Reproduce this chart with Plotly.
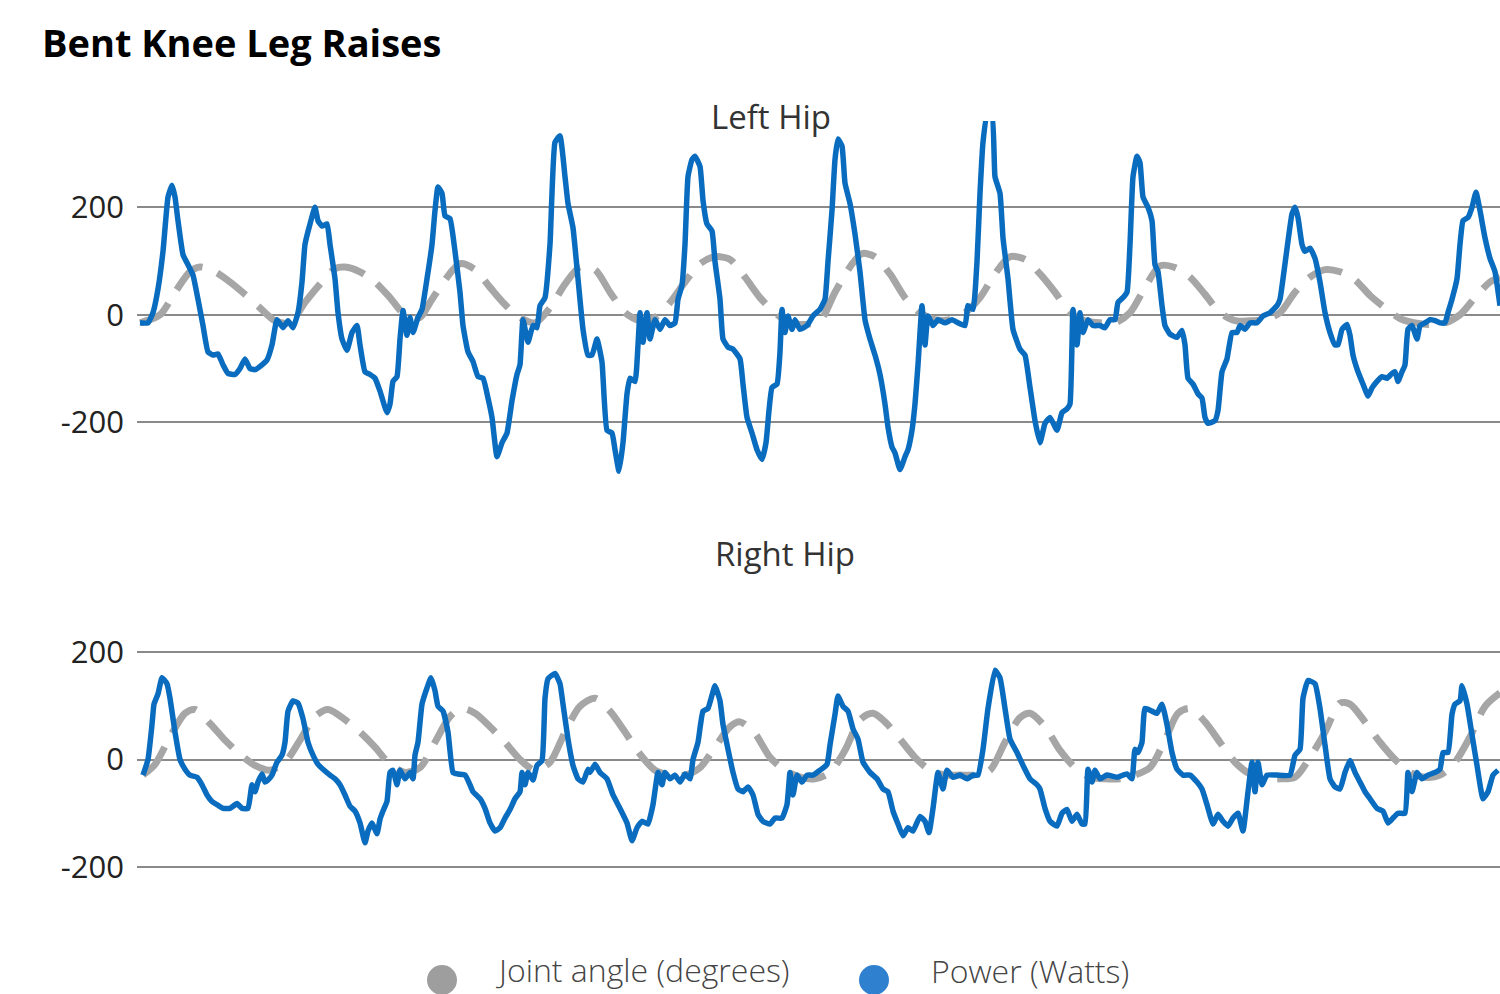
import plotly.graph_objects as go
from plotly.subplots import make_subplots

# ---------------- data (frames vs. values) ----------------
lh_power_frame = [0, 8, 13, 18, 23, 28, 32, 35, 38, 43, 48, 53, 58, 63, 68, 73, 78, 83, 88, 95, 100, 105, 110, 115, 122, 127, 132, 137, 143, 148, 153, 158, 162, 165, 170, 175, 178, 182, 187, 190, 195, 198, 202, 207, 212, 217, 220, 225, 230, 235, 240, 247, 250, 253, 257, 260, 263, 267, 270, 273, 278, 282, 287, 292, 295, 298, 302, 305, 310, 315, 320, 323, 328, 333, 338, 343, 348, 352, 357, 362, 367, 372, 377, 380, 383, 388, 393, 397, 400, 405, 410, 415, 420, 425, 428, 433, 438, 443, 448, 452, 457, 462, 467, 472, 475, 479, 483, 487, 490, 495, 498, 500, 503, 507, 510, 515, 520, 525, 530, 535, 538, 542, 545, 548, 552, 555, 560, 563, 567, 572, 575, 580, 583, 588, 593, 600, 603, 607, 612, 617, 622, 626, 629, 632, 637, 640, 642, 645, 648, 652, 655, 660, 667, 673, 680, 685, 688, 692, 695, 698, 702, 705, 710, 715, 720, 725, 730, 735, 740, 745, 748, 752, 755, 760, 765, 768, 772, 775, 778, 782, 785, 788, 793, 798, 805, 812, 818, 825, 828, 833, 837, 840, 843, 847, 852, 855, 860, 863, 868, 873, 880, 885, 890, 895, 900, 905, 910, 917, 922, 927, 930, 933, 937, 940, 943, 948, 953, 960, 965, 970, 975, 978, 983, 987, 990, 993, 997, 1000, 1003, 1008, 1012, 1015, 1018, 1022, 1025, 1030, 1037, 1042, 1045, 1048, 1053, 1058, 1062, 1065, 1068, 1075, 1078, 1082, 1087, 1092, 1097, 1100, 1105, 1110, 1117, 1123, 1130, 1137, 1140, 1143, 1148, 1152, 1155, 1158, 1162, 1165, 1170, 1175, 1180, 1185, 1190, 1195, 1198, 1202, 1207, 1210, 1213, 1218, 1223, 1228, 1232, 1237, 1242, 1247, 1252, 1255, 1258, 1262, 1265, 1268, 1272, 1277, 1280, 1285, 1290, 1295, 1300, 1305, 1308, 1312, 1317, 1320, 1323, 1328, 1332, 1336, 1340, 1345, 1350, 1355, 1360]
lh_power = [-15, -15, 4, 48, 118, 219, 241, 219, 175, 112, 93, 74, 29, -20, -69, -75, -73, -93, -109, -111, -100, -82, -100, -102, -93, -84, -56, -9, -24, -11, -24, 4, 61, 131, 169, 200, 175, 165, 169, 131, 67, 4, -45, -66, -33, -20, -56, -106, -111, -118, -142, -182, -166, -124, -115, -45, 8, -38, -5, -33, -5, 10, 67, 131, 194, 238, 226, 184, 179, 118, 42, -20, -69, -87, -115, -118, -155, -191, -264, -238, -220, -160, -111, -93, -9, -51, -20, -24, 17, 32, 131, 321, 333, 257, 207, 162, 67, -27, -75, -75, -45, -88, -215, -220, -251, -291, -238, -147, -118, -124, -56, 4, -51, 4, -45, -9, -27, -9, -20, -15, 29, 55, 131, 257, 289, 295, 276, 213, 169, 156, 99, 29, -45, -60, -64, -82, -129, -191, -220, -251, -269, -238, -178, -135, -129, -69, 10, -33, -2, -27, -9, -27, -20, -2, 10, 29, 99, 194, 289, 327, 314, 245, 207, 150, 80, -9, -45, -75, -111, -166, -209, -246, -257, -288, -264, -251, -215, -166, -93, 17, -56, -2, -20, -9, -15, -9, -15, -20, 17, 10, 99, 226, 321, 370, 370, 257, 226, 143, 67, -27, -64, -75, -135, -197, -238, -202, -191, -215, -182, -175, -166, 10, -56, 4, -33, -9, -20, -20, -24, -9, -9, 23, 32, 42, 131, 257, 295, 283, 219, 200, 175, 93, 80, 17, -20, -36, -42, -29, -56, -118, -129, -147, -155, -191, -202, -197, -178, -106, -82, -33, -33, -20, -27, -15, -15, -2, 4, 17, 29, 67, 137, 188, 200, 181, 131, 118, 124, 105, 61, 4, -33, -56, -56, -27, -18, -38, -75, -106, -129, -151, -136, -124, -115, -118, -109, -106, -124, -106, -93, -27, -20, -45, -20, -15, -9, -11, -15, -15, 4, 29, 67, 131, 175, 181, 200, 228, 194, 143, 105, 80, 17]

lh_angle_frame = [0, 20, 35, 50, 60, 75, 90, 105, 120, 135, 150, 165, 180, 195, 205, 220, 235, 250, 265, 280, 290, 305, 320, 335, 350, 365, 380, 395, 410, 425, 440, 455, 470, 485, 500, 515, 530, 545, 560, 575, 590, 605, 620, 635, 650, 665, 680, 695, 710, 722, 735, 750, 765, 780, 795, 810, 825, 840, 855, 870, 885, 900, 915, 930, 945, 960, 975, 990, 1005, 1020, 1035, 1050, 1065, 1080, 1095, 1110, 1125, 1140, 1155, 1170, 1185, 1200, 1215, 1230, 1245, 1260, 1275, 1290, 1305, 1320, 1335, 1350, 1360]
lh_angle = [-15, 0, 42, 80, 89, 80, 61, 38, 13, -11, -15, 23, 57, 86, 89, 80, 61, 32, 0, -5, 23, 65, 95, 84, 51, 19, -5, -15, 13, 57, 89, 84, 42, 4, -11, -5, 23, 61, 95, 108, 103, 70, 32, 4, -15, -18, -11, 42, 89, 114, 108, 76, 32, 4, -9, -9, 4, 32, 76, 108, 103, 76, 42, 4, -11, -15, -15, 4, 51, 91, 88, 70, 38, 4, -11, -11, -9, 4, 42, 70, 84, 80, 65, 36, 13, -7, -15, -18, -15, 0, 32, 61, 70]

rh_power_frame = [3, 8, 12, 14, 18, 22, 27, 30, 35, 40, 45, 50, 57, 62, 67, 72, 77, 83, 90, 97, 102, 108, 112, 115, 118, 122, 125, 128, 132, 137, 142, 145, 148, 153, 158, 163, 168, 173, 178, 183, 190, 195, 200, 205, 210, 215, 220, 225, 228, 232, 237, 240, 243, 247, 250, 253, 257, 260, 265, 270, 273, 275, 278, 282, 287, 291, 295, 298, 303, 308, 313, 318, 325, 330, 333, 340, 345, 350, 355, 360, 365, 370, 375, 380, 382, 385, 388, 393, 397, 402, 405, 408, 415, 420, 423, 428, 433, 438, 443, 448, 450, 455, 460, 467, 473, 480, 487, 492, 497, 502, 508, 513, 518, 522, 525, 530, 535, 540, 545, 550, 553, 558, 563, 568, 575, 580, 583, 588, 593, 598, 603, 608, 613, 618, 623, 630, 635, 642, 647, 650, 653, 657, 662, 667, 673, 680, 687, 690, 695, 698, 703, 708, 713, 718, 723, 730, 737, 743, 748, 753, 758, 763, 768, 773, 780, 785, 789, 793, 798, 803, 807, 813, 820, 827, 833, 838, 843, 848, 855, 860, 865, 870, 877, 883, 890, 897, 900, 905, 910, 917, 922, 927, 932, 937, 942, 945, 948, 952, 955, 960, 967, 977, 987, 992, 995, 998, 1002, 1005, 1012, 1017, 1022, 1027, 1032, 1037, 1043, 1050, 1057, 1062, 1067, 1073, 1078, 1083, 1088, 1093, 1098, 1103, 1108, 1112, 1115, 1118, 1122, 1127, 1137, 1150, 1155, 1160, 1163, 1168, 1175, 1180, 1185, 1190, 1195, 1200, 1205, 1210, 1215, 1220, 1225, 1230, 1237, 1243, 1248, 1253, 1258, 1265, 1268, 1272, 1277, 1282, 1288, 1295, 1300, 1303, 1308, 1312, 1315, 1320, 1322, 1327, 1332, 1337, 1343, 1348, 1353, 1358]
rh_power = [-29, 0, 65, 103, 122, 152, 141, 114, 51, 0, -18, -29, -33, -47, -66, -78, -84, -91, -91, -82, -91, -91, -47, -60, -42, -27, -42, -38, -29, -5, 8, 32, 90, 109, 105, 76, 32, 8, -9, -18, -29, -36, -47, -66, -87, -96, -118, -155, -133, -118, -138, -111, -96, -78, -24, -20, -47, -20, -36, -24, -36, 8, 32, 103, 133, 152, 128, 99, 90, 51, -24, -27, -29, -47, -60, -73, -91, -118, -133, -127, -109, -93, -73, -60, -24, -47, -24, -38, -11, -2, 114, 150, 160, 141, 103, 38, -11, -36, -42, -18, -24, -9, -24, -36, -66, -91, -118, -151, -127, -115, -120, -84, -24, -47, -24, -36, -29, -42, -27, -36, 0, 32, 90, 95, 137, 109, 65, 19, -24, -55, -60, -51, -66, -102, -115, -120, -109, -109, -84, -24, -66, -29, -42, -29, -29, -20, -9, 27, 84, 118, 99, 90, 57, 38, -5, -24, -36, -55, -60, -96, -120, -142, -127, -133, -106, -115, -136, -91, -24, -55, -20, -33, -29, -36, -29, -29, 19, 95, 166, 152, 95, 38, 13, -11, -36, -47, -55, -91, -115, -124, -100, -93, -115, -102, -120, -120, -18, -42, -20, -36, -29, -33, -27, -36, 19, 13, 32, 95, 90, 86, 103, 65, 13, -18, -29, -29, -42, -55, -84, -120, -102, -115, -124, -109, -100, -133, -60, -5, -60, -5, -47, -29, -29, -29, 8, 19, 114, 147, 141, 95, 27, -36, -51, -55, -24, -2, -24, -42, -60, -73, -91, -96, -118, -109, -100, -100, -24, -60, -24, -36, -29, -24, -18, 13, 13, 84, 103, 109, 137, 103, 46, -11, -73, -60, -29, -20]

rh_angle_frame = [3, 15, 30, 45, 55, 70, 85, 100, 115, 130, 145, 160, 175, 188, 205, 220, 235, 250, 265, 280, 295, 310, 322, 335, 350, 365, 380, 395, 410, 425, 440, 455, 470, 485, 500, 515, 530, 545, 560, 575, 590, 600, 615, 630, 645, 660, 675, 690, 705, 720, 733, 745, 760, 775, 790, 805, 820, 835, 850, 865, 880, 890, 905, 920, 935, 950, 965, 980, 995, 1010, 1025, 1038, 1050, 1065, 1080, 1095, 1110, 1125, 1140, 1155, 1170, 1185, 1200, 1210, 1225, 1240, 1255, 1270, 1285, 1300, 1315, 1330, 1345, 1360]
rh_angle = [-29, -9, 42, 86, 93, 67, 36, 10, -11, -20, -5, 36, 80, 93, 74, 51, 23, -9, -24, -15, 32, 80, 95, 86, 61, 32, 0, -20, -5, 51, 99, 114, 90, 51, 10, -20, -29, -29, -15, 23, 61, 70, 48, 4, -20, -33, -36, -24, 17, 74, 86, 70, 38, 4, -20, -29, -29, -29, -20, 32, 78, 86, 61, 17, -15, -33, -36, -36, -29, -15, 36, 86, 95, 70, 32, -5, -27, -36, -36, -33, 4, 51, 105, 103, 70, 32, 0, -24, -33, -29, -5, 42, 99, 124]

panel_titles = ["Left Hip", "Right Hip"]
series_names = ["Joint angle (degrees)", "Power (Watts)"]
series_colors = ["#a6a6a6", "#0a6cbf"]
legend_colors = ["#9e9e9e", "#2f80cf"]
y_ticks = [-200, 0, 200]
y_tick_text = ["-200", "0", "200"]
chart_title = "Bent Knee Leg Raises"

# ---------------- figure ----------------
W, H = 1500, 994
FONT = "Open Sans"

fig = make_subplots(rows=2, cols=1)

panels = [
    (lh_angle_frame, lh_angle, lh_power_frame, lh_power),
    (rh_angle_frame, rh_angle, rh_power_frame, rh_power),
]
for i, (af, av, pf, pv) in enumerate(panels, start=1):
    fig.add_trace(go.Scatter(x=af, y=av, mode="lines", name=series_names[0],
                             line=dict(color=series_colors[0], width=7, dash="36px,16px", shape="spline", smoothing=0.8),
                             showlegend=False, hoverinfo="skip"), row=i, col=1)
    fig.add_trace(go.Scatter(x=pf, y=pv, mode="lines", name=series_names[1],
                             line=dict(color=series_colors[1], width=5.5, shape="spline", smoothing=0.4),
                             showlegend=False, hoverinfo="skip"), row=i, col=1)

x_dom = [137 / W, 1.0]
top_dom = [1 - 484 / H, 1 - 121 / H]
bot_dom = [1 - 900 / H, 1 - 600 / H]
scale = 107.5 / 200.0  # pixels per unit
top_zero, bot_zero = 314.8, 759.5
top_range = [-(484 - top_zero) / scale, (top_zero - 121) / scale]
bot_range = [-(900 - bot_zero) / scale, (bot_zero - 600) / scale]

xcommon = dict(range=[-3, 1360], domain=x_dom, showgrid=False, zeroline=False,
               showticklabels=False, showline=False, ticks="", automargin=False)
ycommon = dict(tickvals=y_ticks, ticktext=y_tick_text, showgrid=True, gridcolor="#8a8a8a",
               gridwidth=2, zeroline=False, showline=False, ticks="", automargin=False,
               tickfont=dict(family=FONT, size=31, color="#222222"), ticklabelstandoff=12)

fig.update_layout(
    width=W, height=H,
    margin=dict(l=0, r=0, t=0, b=0, autoexpand=False),
    paper_bgcolor="white", plot_bgcolor="white",
    showlegend=False,
    xaxis=dict(**xcommon), xaxis2=dict(**xcommon),
    yaxis=dict(**ycommon, domain=top_dom, range=top_range),
    yaxis2=dict(**ycommon, domain=bot_dom, range=bot_range),
    title=dict(text=chart_title, x=42 / W, xanchor="left", y=1 - 44 / H, yanchor="middle",
               font=dict(family=FONT, size=38, color="#000000", weight=700)),
)

# panel titles
title_pos = [(771, 117), (785, 553)]
for txt, (px, py) in zip(panel_titles, title_pos):
    fig.add_annotation(text=txt, x=px / W, y=1 - py / H, xref="paper", yref="paper",
                       xanchor="center", yanchor="middle", showarrow=False,
                       font=dict(family=FONT, size=33, color="#333333"))

# legend (large circular swatches)
legend_pos = [(442, 980, 494, 969), (874, 980, 929, 970)]
r = 15
for name, col, (cx, cy, tx, ty) in zip(series_names, legend_colors, legend_pos):
    fig.add_shape(type="circle", xref="paper", yref="paper",
                  x0=(cx - r) / W, x1=(cx + r) / W, y0=1 - (cy + r) / H, y1=1 - (cy - r) / H,
                  fillcolor=col, line=dict(width=0))
    fig.add_annotation(text=name, x=tx / W, y=1 - ty / H, xref="paper", yref="paper",
                       xanchor="left", yanchor="middle", showarrow=False,
                       font=dict(family=FONT, size=32, color="#444444", weight=300))

fig.write_html("out.html", config={"displayModeBar": False},
               post_script="document.body.style.margin='0';document.body.style.overflow='hidden';")
